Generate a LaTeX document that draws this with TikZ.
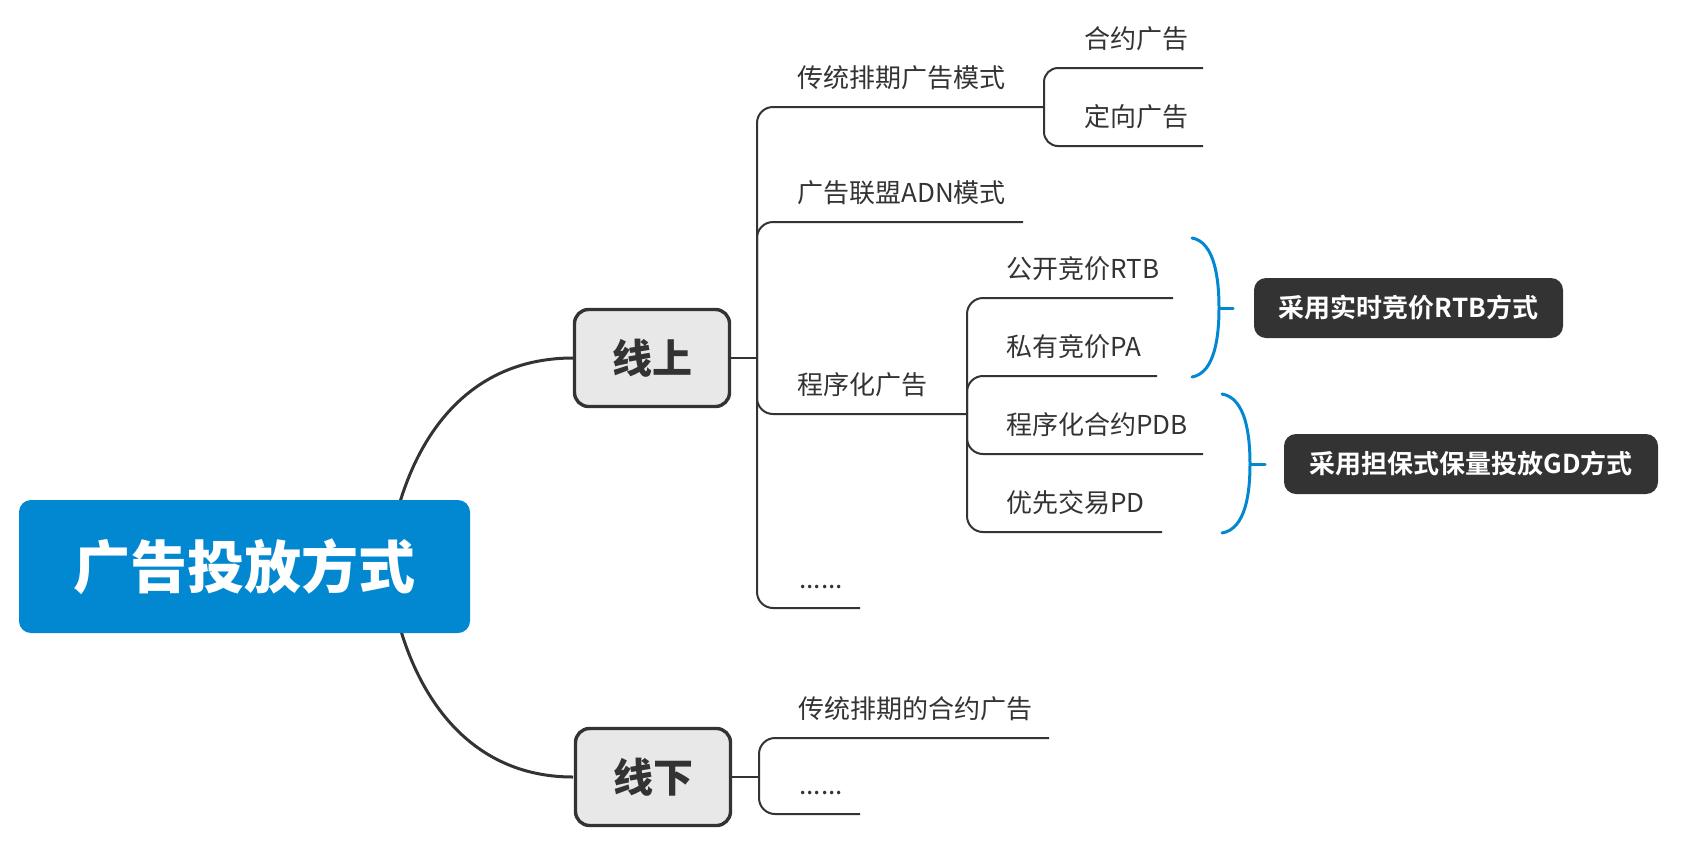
\documentclass[tikz,border=0pt]{standalone}
\usepackage{fontspec}
\newfontfamily\cjk{Noto Sans CJK SC}[BoldFont={Noto Sans CJK SC Bold}]
\newfontfamily\cjkblack{Noto Sans CJK SC Black}
\definecolor{txt}{HTML}{333333}
\definecolor{lnc}{HTML}{333333}
\definecolor{rootblue}{HTML}{0288D1}
\definecolor{boxgray}{HTML}{E8E8E8}
\definecolor{bracecol}{HTML}{0288D1}
\begin{document}
\begin{tikzpicture}[x=0.5pt,y=-0.5pt,
  topic/.style={font=\cjk\fontsize{13pt}{15pt}\selectfont, text=txt, inner sep=0pt, anchor=base west},
  link/.style={draw=lnc, line width=1pt, rounded corners=8pt},
  sublink/.style={draw=lnc, line width=1pt, rounded corners=7pt},
  curvelink/.style={draw=lnc, line width=1.5pt},
  rootbox/.style={fill=rootblue, rounded corners=6pt, minimum width=225.5pt, minimum height=66.5pt, inner sep=0pt, text=white, font=\cjkblack\fontsize{28.5pt}{32pt}\selectfont},
  mainbox/.style={fill=boxgray, draw=lnc, line width=1.7pt, rounded corners=7pt, minimum width=77.5pt, minimum height=48.5pt, inner sep=0pt, text=txt, font=\cjkblack\fontsize{20pt}{23pt}\selectfont},
  notebox/.style={fill=txt, rounded corners=6pt, minimum height=30pt, inner sep=0pt, text=white, font=\cjk\bfseries\fontsize{13pt}{15pt}\selectfont},
  bracestyle/.style={draw=bracecol, line width=1.5pt, line cap=round}
]
\useasboundingbox (0,0) rectangle (1685,847);

% junctions and line ends
\coordinate (rt) at (400,502);
\coordinate (rb) at (401,631);
\coordinate (onj) at (757,358);
\coordinate (offj) at (759,777);
\coordinate (t1e) at (1044,107);
\coordinate (t2e) at (1023,222);
\coordinate (t3e) at (967,414);
\coordinate (t4e) at (860,608);
\coordinate (a1e) at (1203,68);
\coordinate (a2e) at (1203,146);
\coordinate (p1e) at (1173,298);
\coordinate (p2e) at (1157,376);
\coordinate (p3e) at (1203,454);
\coordinate (p4e) at (1162,532);
\coordinate (o1e) at (1049,738);
\coordinate (o2e) at (860,814);

% curves from root
\draw[curvelink] (rt) .. controls (425,420) and (480,358) .. (573,358);
\draw[curvelink] (rb) .. controls (426,713) and (481,777) .. (573,777);

% nodes
\node[rootbox] (root) at (244.5,566.5) {广告投放方式};
\node[mainbox] (on) at (652,358) {线上};
\node[mainbox] (off) at (653,777) {线下};

\node[topic] (t1) at (797,87) {传统排期广告模式};
\node[topic] (t2) at (797,202) {广告联盟ADN模式};
\node[topic] (t3) at (797,394) {程序化广告};
\node[topic] (t4) at (799,588) {......};
\node[topic] (a1) at (1084,48) {合约广告};
\node[topic] (a2) at (1084,126) {定向广告};
\node[topic] (p1) at (1006,278) {公开竞价RTB};
\node[topic] (p2) at (1006,356) {私有竞价PA};
\node[topic] (p3) at (1006,434) {程序化合约PDB};
\node[topic] (p4) at (1006,512) {优先交易PD};
\node[topic] (o1) at (798,718) {传统排期的合约广告};
\node[topic] (o2) at (799,794) {......};

\node[notebox, minimum width=154.5pt] (n1) at (1408.5,308) {采用实时竞价RTB方式};
\node[notebox, minimum width=187pt] (n2) at (1471,464) {采用担保式保量投放GD方式};

% connectors
\draw[draw=lnc, line width=0.8pt] (on.east) -- (onj);
\draw[draw=lnc, line width=0.8pt] (off.east) -- (offj);
\draw[link] (onj) |- (t1e);
\draw[link] (onj) |- (t2e);
\draw[link] (onj) |- (t3e);
\draw[link] (onj) |- (t4e);
\draw[sublink] (t1e) |- (a1e);
\draw[sublink] (t1e) |- (a2e);
\draw[link] (t3e) |- (p1e);
\draw[link] (t3e) |- (p2e);
\draw[link] (t3e) |- (p3e);
\draw[link] (t3e) |- (p4e);
\draw[link] (offj) |- (o1e);
\draw[link] (offj) |- (o2e);

% braces
\draw[bracestyle] (1192,238) .. controls (1215,242) and (1219,280) .. (1219,308)
  .. controls (1219,336) and (1215,373) .. (1192,377);
\draw[bracestyle] (1219,308) -- (1233,308);
\draw[bracestyle] (1222,394) .. controls (1246,398) and (1250,436) .. (1250,464)
  .. controls (1250,492) and (1246,529) .. (1222,533);
\draw[bracestyle] (1250,464) -- (1265,464);
\end{tikzpicture}
\end{document}
